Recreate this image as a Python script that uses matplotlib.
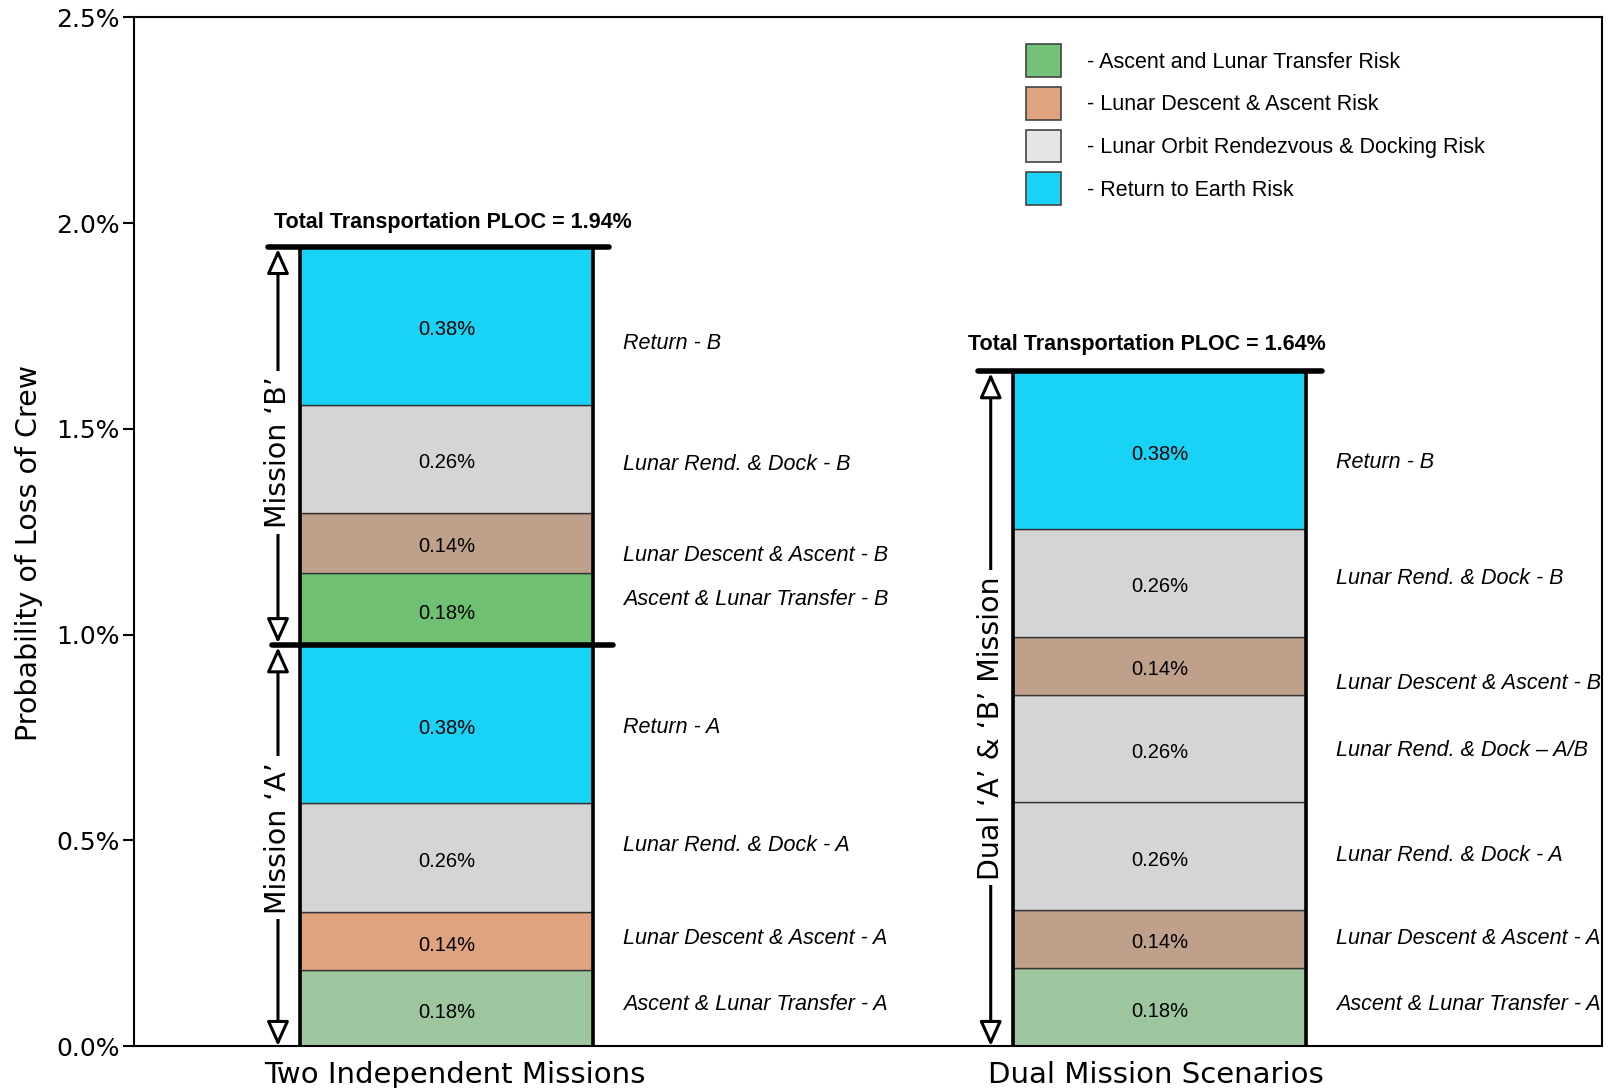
import matplotlib
matplotlib.use('Agg')
import matplotlib.pyplot as plt
from matplotlib.patches import Patch

# segment values (bottom -> top)
two_missions_vals = [0.185, 0.14, 0.265, 0.384, 0.176, 0.146, 0.263, 0.383]
two_missions_text = ['0.18%', '0.14%', '0.26%', '0.38%', '0.18%', '0.14%', '0.26%', '0.38%']
two_missions_names = ['Ascent & Lunar Transfer - A', 'Lunar Descent & Ascent - A', 'Lunar Rend. & Dock - A',
                      'Return - A', 'Ascent & Lunar Transfer - B', 'Lunar Descent & Ascent - B',
                      'Lunar Rend. & Dock - B', 'Return - B']

dual_vals = [0.19, 0.141, 0.261, 0.261, 0.142, 0.262, 0.383]
dual_text = ['0.18%', '0.14%', '0.26%', '0.26%', '0.14%', '0.26%', '0.38%']
dual_names = ['Ascent & Lunar Transfer - A', 'Lunar Descent & Ascent - A', 'Lunar Rend. & Dock - A',
              'Lunar Rend. & Dock \u2013 A/B', 'Lunar Descent & Ascent - B', 'Lunar Rend. & Dock - B',
              'Return - B']

categories = ['Two Independent Missions', 'Dual Mission Scenarios']
totals_text = ['Total Transportation PLOC = 1.94%', 'Total Transportation PLOC = 1.64%']
legend_labels = ['- Ascent and Lunar Transfer Risk', '- Lunar Descent & Ascent Risk',
                 '- Lunar Orbit Rendezvous & Docking Risk', '- Return to Earth Risk']

# layout / style
green_lt = '#9DC69E'
green_br = '#6FC073'
orange = '#DFA37F'
tan = '#BFA08B'
grey = '#D5D5D5'
cyan = '#19D3F6'
two_colors = [green_lt, orange, grey, cyan, green_br, tan, grey, cyan]
dual_colors = [green_lt, tan, grey, grey, tan, grey, cyan]
legend_colors = ['#74C27A', '#DFA37F', '#E6E6E6', '#19D3F6']

# y positions of the italic side labels (they are not centred on segments)
two_name_y = [0.102, 0.262, 0.488, 0.773, 1.084, 1.193, 1.412, 1.708]
dual_name_y = [0.102, 0.262, 0.464, 0.717, 0.882, 1.137, 1.417]

xpos = [2.129, 6.986]
label_x = [2.187, 6.958]
barWidth = 1.996

fig = plt.figure(figsize=(16.12, 10.88), dpi=100)
ax = fig.add_axes([0.0831, 0.0386, 0.9107, 0.9455])
ax.set_xlim(0, 10)
ax.set_ylim(0, 2.5)

def draw_stack(x, vals, colors, texts, names, name_y):
    bottom = 0
    for v, c, t in zip(vals, colors, texts):
        ax.bar(x, v, bottom=bottom, width=barWidth, color=c, edgecolor='#333333', linewidth=1.0, zorder=2)
        ax.annotate(t, (x, bottom + v / 2), xytext=(0, -3), textcoords='offset points',
                    ha='center', va='center', fontsize=14.5, family='Liberation Sans', zorder=4)
        bottom += v
    # thick side edges
    ax.vlines([x - barWidth / 2, x + barWidth / 2], 0, bottom, colors='black', linewidth=2.6, zorder=3)
    for n, yy in zip(names, name_y):
        ax.text(x + barWidth / 2 + 0.204, yy, n, ha='left', va='center', fontsize=15.5,
                style='italic', family='Liberation Sans', clip_on=False)
    return bottom

top_two = draw_stack(xpos[0], two_missions_vals, two_colors, two_missions_text, two_missions_names, two_name_y)
top_dual = draw_stack(xpos[1], dual_vals, dual_colors, dual_text, dual_names, dual_name_y)
mid_two = sum(two_missions_vals[:4])

# total lines
ax.plot([xpos[0] - barWidth / 2 - 0.218, xpos[0] + barWidth / 2 + 0.109], [top_two, top_two],
        color='black', linewidth=4, solid_capstyle='round', zorder=5)
ax.plot([xpos[0] - barWidth / 2 - 0.19, xpos[0] + barWidth / 2 + 0.136], [mid_two, mid_two],
        color='black', linewidth=4, solid_capstyle='round', zorder=5)
ax.plot([xpos[1] - barWidth / 2 - 0.239, xpos[1] + barWidth / 2 + 0.109], [top_dual, top_dual],
        color='black', linewidth=4, solid_capstyle='round', zorder=5)

ax.text(2.173, 2.002, totals_text[0], ha='center', va='center', fontsize=15.5, fontweight='bold',
        family='Liberation Sans')
ax.text(6.90, 1.706, totals_text[1], ha='center', va='center', fontsize=15.5, fontweight='bold',
        family='Liberation Sans')

# mission arrows
def mission_arrow(x, y0, y1, label, ymid):
    ax.annotate('', xy=(x, y1), xytext=(x, y0),
                arrowprops=dict(arrowstyle='<|-|>,head_length=1.0,head_width=0.45', fc='white', ec='black',
                                lw=2.2, mutation_scale=15, shrinkA=0, shrinkB=0), zorder=6)
    ax.text(x, ymid, label, rotation=90, ha='center', va='center', fontsize=20.5, zorder=7,
            bbox=dict(boxstyle='square,pad=0.2', fc='white', ec='none'))

mission_arrow(0.981, mid_two + 0.005, top_two - 0.005, 'Mission \u2018B\u2019', 1.443)
mission_arrow(0.981, 0.0, mid_two - 0.005, 'Mission \u2018A\u2019', 0.506)
mission_arrow(5.836, 0.0, top_dual - 0.005, 'Dual \u2018A\u2019 & \u2018B\u2019 Mission', 0.773)

# axes
ax.set_yticks([0, 0.5, 1.0, 1.5, 2.0, 2.5])
ax.set_yticklabels(['%.1f%%' % v for v in [0, 0.5, 1.0, 1.5, 2.0, 2.5]], fontsize=18)
ax.tick_params(axis='y', length=8, width=1.5, pad=2)
ax.set_xticks(label_x)
ax.set_xticklabels(categories, fontsize=21)
ax.tick_params(axis='x', length=0, pad=11)
ax.set_ylabel('Probability of Loss of Crew', fontsize=20.5)
ax.yaxis.set_label_coords(-0.062, 0.479)
for s in ax.spines.values():
    s.set_linewidth(1.5)

handles = [Patch(facecolor=c, edgecolor='#444444', linewidth=1.2) for c in legend_colors]
ax.legend(handles, legend_labels, loc='upper left', bbox_to_anchor=(0.602, 0.982), frameon=False,
          prop={'family': 'Liberation Sans', 'size': 15.5}, handlelength=1.6, handleheight=1.95,
          handletextpad=1.2, labelspacing=0.47, borderaxespad=0)

plt.savefig('out.png', dpi=100)
